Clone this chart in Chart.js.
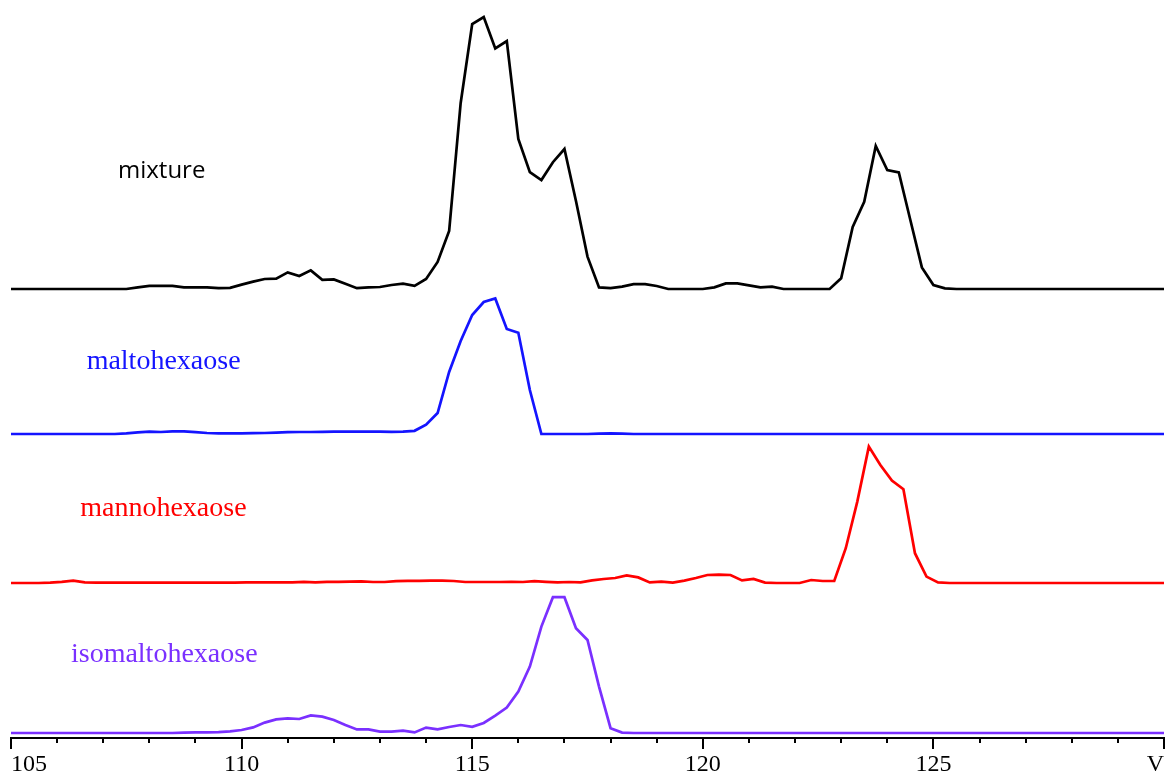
<!DOCTYPE html>
<html>
<head>
<meta charset="utf-8">
<title>Chromatograms</title>
<script src="https://cdn.jsdelivr.net/npm/chart.js@4"></script>
<style>
  html, body { margin: 0; padding: 0; background: #fff; }
  #wrap { width: 1166px; height: 774px; }
</style>
</head>
<body>
<div id="wrap"><canvas id="chromChart"></canvas></div>
<script>
// elution volume axis
const volMin = 105;
const volMax = 130;
const volStep = 0.25;

const traceNames = ['mixture', 'maltohexaose', 'mannohexaose', 'isomaltohexaose'];
const traceColors = ['#000000', '#1414ff', '#ff0000', '#7a30ff'];
// first sample volume of each run
const traceStart = [105.0, 105.0, 104.85, 105.0];
// vertical stacking of the runs
const traceOffset = [224.5, 152, 77.5, 2.5];

// detector response, one sample every 0.25 V
const mixture = [
  0, 0, 0, 0, 0, 0, 0, 0, 0, 0,
  0, 0.8, 1.6, 1.6, 1.6, 0.8, 0.8, 0.8, 0.4, 0.6,
  2.2, 3.7, 5, 5.2, 8.3, 6.5, 9.3, 4.6, 4.8, 2.6,
  0.4, 0.8, 1, 2, 2.7, 1.6, 5, 13.5, 29, 93,
  132.5, 136, 120.3, 124, 75, 58.4, 54.5, 63.4, 70, 44,
  16.2, 0.8, 0.4, 1.2, 2.4, 2.4, 1.5, 0, 0, 0,
  0, 0.8, 2.8, 2.8, 1.8, 0.8, 1.2, 0, 0, 0,
  0, 0, 5.4, 31, 43.6, 71.5, 59.5, 58.3, 34.5, 10.8,
  2, 0.3, 0, 0, 0, 0, 0, 0, 0, 0,
  0, 0, 0, 0, 0, 0, 0, 0, 0, 0,
  0
];
const maltohexaose = [
  0, 0, 0, 0, 0, 0, 0, 0, 0, 0,
  0.3, 0.8, 1.2, 1.0, 1.3, 1.3, 0.9, 0.5, 0.3, 0.3,
  0.3, 0.4, 0.5, 0.7, 0.9, 1.0, 1.0, 1.1, 1.2, 1.2,
  1.2, 1.2, 1.2, 1.1, 1.2, 1.6, 4.7, 10.5, 31, 46.5,
  59.5, 66, 67.8, 52.5, 50.6, 22, 0, 0, 0, 0,
  0, 0.2, 0.3, 0.2, 0, 0, 0, 0, 0, 0,
  0, 0, 0, 0, 0, 0, 0, 0, 0, 0,
  0, 0, 0, 0, 0, 0, 0, 0, 0, 0,
  0, 0, 0, 0, 0, 0, 0, 0, 0, 0,
  0, 0, 0, 0, 0, 0, 0, 0, 0, 0,
  0
];
const mannohexaose = [
  0,
  0, 0, 0, 0.2, 0.6, 1.2, 0.3, 0.2, 0.2, 0.2,
  0.2, 0.2, 0.2, 0.2, 0.2, 0.2, 0.2, 0.2, 0.2, 0.2,
  0.3, 0.3, 0.3, 0.3, 0.3, 0.6, 0.3, 0.6, 0.6, 0.7,
  0.8, 0.5, 0.5, 0.9, 1.1, 1.1, 1.2, 1.2, 1.0, 0.5,
  0.5, 0.5, 0.5, 0.6, 0.5, 0.9, 0.6, 0.3, 0.5, 0.3,
  1.3, 2.0, 2.5, 3.8, 2.8, 0.3, 0.7, 0.2, 1.2, 2.5,
  4, 4.2, 4, 1.3, 2, 0.2, 0, 0, 0, 1.5,
  1.0, 1.0, 17.4, 40.7, 68.2, 59, 51.2, 46.9, 14.9, 3.2,
  0.3, 0, 0, 0, 0, 0, 0, 0, 0, 0,
  0, 0, 0, 0, 0, 0, 0, 0, 0, 0,
  0
];
const isomaltohexaose = [
  0, 0, 0, 0, 0, 0, 0, 0, 0, 0,
  0, 0, 0, 0, 0, 0.2, 0.3, 0.3, 0.4, 0.8,
  1.5, 2.8, 5.2, 6.8, 7.3, 7, 8.8, 8.2, 6.5, 4,
  1.8, 1.8, 0.7, 0.7, 1.2, 0.3, 2.7, 1.8, 3.0, 4.0,
  3.1, 5.0, 8.7, 12.7, 20.7, 33.2, 53.2, 67.9, 67.9, 52.4,
  46.5, 23.2, 2.4, 0.2, 0, 0, 0, 0, 0, 0,
  0, 0, 0, 0, 0, 0, 0, 0, 0, 0,
  0, 0, 0, 0, 0, 0, 0, 0, 0, 0,
  0, 0, 0, 0, 0, 0, 0, 0, 0, 0,
  0, 0, 0, 0, 0, 0, 0, 0, 0, 0,
  0
];
const traces = [mixture, maltohexaose, mannohexaose, isomaltohexaose];

// where each run's name is written: [volume, height]
const labelAt = [[107.32, 280], [106.64, 184.5], [106.5, 111], [106.3, 38]];
const labelFonts = ['24px "Open Sans"', '28px "Liberation Serif"', '28px "Liberation Serif"', '28px "Liberation Serif"'];

const datasets = traces.map((vals, i) => ({
  label: traceNames[i],
  data: vals.map((v, k) => ({ x: traceStart[i] + k * volStep, y: traceOffset[i] + v })),
  borderColor: traceColors[i],
  borderWidth: 2.7,
  pointRadius: 0,
  tension: 0,
  fill: false
}));

// tick marks under the axis: long every 5, short every 1
const tickMarks = {
  id: 'tickMarks',
  afterDraw(chart) {
    const { ctx, chartArea, scales: { x } } = chart;
    ctx.save();
    ctx.strokeStyle = '#000';
    ctx.lineWidth = 2;
    for (let v = volMin; v <= volMax; v++) {
      const px = Math.round(x.getPixelForValue(v));
      const len = v % 5 === 0 ? 11 : 5;
      ctx.beginPath();
      ctx.moveTo(px, chartArea.bottom);
      ctx.lineTo(px, chartArea.bottom + len);
      ctx.stroke();
    }
    ctx.restore();
  }
};

// run names written next to each trace
const traceLabels = {
  id: 'traceLabels',
  afterDatasetsDraw(chart) {
    const { ctx, scales: { x, y } } = chart;
    ctx.save();
    ctx.textBaseline = 'alphabetic';
    ctx.textAlign = 'left';
    traceNames.forEach((name, i) => {
      ctx.font = labelFonts[i];
      ctx.fillStyle = traceColors[i];
      ctx.fillText(name, x.getPixelForValue(labelAt[i][0]), y.getPixelForValue(labelAt[i][1]));
    });
    ctx.restore();
  }
};

new Chart(document.getElementById('chromChart'), {
  type: 'line',
  data: { datasets: datasets },
  options: {
    responsive: true,
    maintainAspectRatio: false,
    animation: false,
    layout: { padding: { left: 11, right: 2, top: 0, bottom: 0 } },
    plugins: { legend: { display: false }, tooltip: { enabled: false } },
    scales: {
      x: {
        type: 'linear',
        min: volMin,
        max: volMax,
        grid: {
          display: true,
          drawOnChartArea: false,
          drawTicks: true,
          tickLength: 18,
          tickColor: 'rgba(0,0,0,0)'
        },
        border: { display: true, color: '#000', width: 2 },
        ticks: {
          stepSize: 1,
          autoSkip: false,
          maxRotation: 0,
          align: 'inner',
          padding: 0,
          color: '#000',
          font: { family: '"Liberation Serif"', size: 24, lineHeight: 0.75 },
          callback: v => (v % 5 === 0 ? (v === volMax ? 'V' : String(v)) : '')
        }
      },
      y: {
        display: false,
        min: 0,
        max: 369
      }
    }
  },
  plugins: [tickMarks, traceLabels]
});
</script>
</body>
</html>
